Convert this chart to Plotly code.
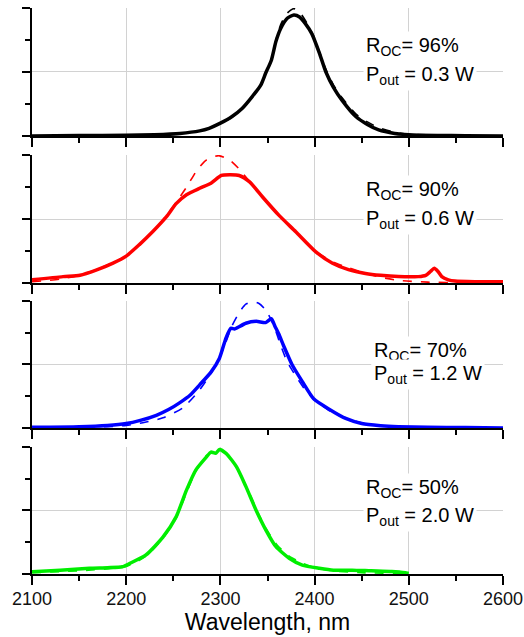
import plotly.graph_objects as go

# ---------------- data ----------------
# Panel 1: R_OC = 96 %, black
wl_96 = [2100, 2150, 2200, 2230, 2257, 2278, 2288, 2300, 2312, 2323, 2334, 2343, 2348, 2354, 2359, 2364,
         2371, 2378, 2384, 2390, 2397, 2405, 2412, 2420, 2429, 2444, 2456, 2468, 2485, 2500, 2530, 2560, 2600]
sp_96 = [0.0, 0.003, 0.005, 0.01, 0.02, 0.04, 0.06, 0.10, 0.15, 0.215, 0.31, 0.40, 0.49, 0.59, 0.74, 0.84,
         0.92, 0.945, 0.93, 0.88, 0.80, 0.65, 0.50, 0.38, 0.28, 0.15, 0.09, 0.047, 0.02, 0.01, 0.004, 0.002, 0.0]
wl_96_fit = [2100, 2200, 2257, 2278, 2300, 2312, 2323, 2334, 2343, 2348, 2354, 2359, 2364, 2371, 2378,
             2385, 2392, 2399, 2405, 2412, 2420, 2429, 2444, 2456, 2468, 2485, 2500, 2550, 2600]
fit_96 = [0.0, 0.004, 0.02, 0.04, 0.095, 0.145, 0.21, 0.31, 0.40, 0.49, 0.60, 0.75, 0.87, 0.96, 0.995,
          0.96, 0.88, 0.78, 0.66, 0.52, 0.40, 0.30, 0.17, 0.11, 0.065, 0.03, 0.015, 0.003, 0.0]

# Panel 2: R_OC = 90 %, red
wl_90 = [2100, 2133, 2151, 2168, 2186, 2200, 2214, 2228, 2243, 2253, 2264, 2278, 2290, 2301, 2310,
         2320, 2331, 2345, 2362, 2380, 2401, 2419, 2436, 2454, 2470, 2489, 2510, 2518, 2523, 2527,
         2531, 2535, 2542, 2549, 2570, 2600]
sp_90 = [0.025, 0.05, 0.06, 0.10, 0.155, 0.21, 0.30, 0.40, 0.52, 0.62, 0.69, 0.74, 0.78, 0.84, 0.845,
         0.84, 0.79, 0.67, 0.53, 0.40, 0.245, 0.155, 0.105, 0.075, 0.06, 0.05, 0.05, 0.06, 0.09, 0.115,
         0.09, 0.05, 0.025, 0.015, 0.01, 0.01]
wl_90_fit = [2100, 2130, 2150, 2170, 2186, 2200, 2214, 2228, 2243, 2255, 2265, 2275, 2285, 2298,
             2310, 2320, 2330, 2345, 2362, 2380, 2401, 2419, 2436, 2454, 2470, 2490, 2520, 2560, 2600]
fit_90 = [0.01, 0.03, 0.06, 0.11, 0.16, 0.21, 0.30, 0.40, 0.53, 0.65, 0.76, 0.88, 0.96, 0.995,
          0.96, 0.89, 0.80, 0.67, 0.53, 0.40, 0.25, 0.165, 0.12, 0.075, 0.045, 0.02, 0.007, 0.002, 0.0]

# Panel 3: R_OC = 70 %, blue
wl_70 = [2100, 2150, 2180, 2200, 2215, 2232, 2245, 2257, 2268, 2278, 2290, 2299, 2306, 2311, 2315,
         2318, 2327, 2338, 2348, 2354, 2358, 2362, 2367, 2376, 2387, 2399, 2415, 2433, 2450, 2470,
         2489, 2520, 2560, 2600]
sp_70 = [0.005, 0.01, 0.02, 0.035, 0.06, 0.10, 0.145, 0.20, 0.26, 0.34, 0.44, 0.55, 0.71, 0.785, 0.78,
         0.79, 0.825, 0.84, 0.83, 0.86, 0.80, 0.74, 0.65, 0.50, 0.365, 0.23, 0.15, 0.075, 0.035, 0.018,
         0.01, 0.005, 0.003, 0.0]
wl_70_fit = [2100, 2180, 2200, 2220, 2239, 2260, 2278, 2290, 2299, 2306, 2312, 2320, 2327, 2334,
             2341, 2348, 2354, 2358, 2364, 2371, 2380, 2390, 2400, 2415, 2433, 2450, 2475, 2520, 2600]
fit_70 = [0.0, 0.01, 0.02, 0.045, 0.08, 0.157, 0.30, 0.43, 0.55, 0.68, 0.80, 0.91, 0.975, 0.995,
          0.98, 0.93, 0.85, 0.78, 0.65, 0.52, 0.41, 0.30, 0.22, 0.14, 0.08, 0.04, 0.015, 0.003, 0.0]

# Panel 4: R_OC = 50 %, green
wl_50 = [2100, 2130, 2161, 2180, 2196, 2204, 2221, 2239, 2253, 2264, 2274, 2285, 2290, 2295, 2299,
         2306, 2317, 2327, 2338, 2348, 2359, 2373, 2387, 2405, 2420, 2440, 2460, 2482, 2490, 2500]
sp_50 = [0.018, 0.03, 0.045, 0.05, 0.057, 0.084, 0.15, 0.29, 0.45, 0.66, 0.82, 0.92, 0.96, 0.95, 0.98,
         0.95, 0.845, 0.69, 0.50, 0.35, 0.215, 0.124, 0.07, 0.045, 0.03, 0.03, 0.025, 0.02, 0.015, 0.005]
wl_50_fit = [2100, 2160, 2200, 2221, 2239, 2253, 2264, 2274, 2285, 2298, 2310, 2320, 2330, 2340,
             2350, 2360, 2373, 2387, 2400, 2420, 2450, 2500]
fit_50 = [0.01, 0.03, 0.06, 0.14, 0.28, 0.44, 0.64, 0.81, 0.93, 0.98, 0.92, 0.80, 0.65, 0.48,
          0.34, 0.23, 0.14, 0.085, 0.05, 0.025, 0.01, 0.005]

roc_labels = ["96%", "90%", "70%", "50%"]
pout_labels = ["0.3 W", "0.6 W", "1.2 W", "2.0 W"]
x_ticks = [2100, 2200, 2300, 2400, 2500, 2600]

# ---------------- figure ----------------
panels = [
    (wl_96, sp_96, wl_96_fit, fit_96, "#000000"),
    (wl_90, sp_90, wl_90_fit, fit_90, "#ff0000"),
    (wl_70, sp_70, wl_70_fit, fit_70, "#0000ff"),
    (wl_50, sp_50, wl_50_fit, fit_50, "#00ee00"),
]
domains = [[0.7739, 1.0], [0.5141, 0.7403], [0.2580, 0.4823], [0.0, 0.2244]]
text_pos = [  # (x, y line1, y line2)
    (2451, 0.70, 0.47),
    (2451, 0.72, 0.50),
    (2460, 0.60, 0.42),
    (2451, 0.675, 0.455),
]

FONT = "Liberation Sans, Arial, sans-serif"
fig = go.Figure()
layout = dict(
    width=524, height=637, autosize=False,
    margin=dict(l=32, r=21, t=8, b=63),
    paper_bgcolor="white", plot_bgcolor="white",
    showlegend=False,
    font=dict(family=FONT, color="black"),
)
annotations = []
for i, (wl, sp, wlf, fit, col) in enumerate(panels):
    n = i + 1
    xa = "x" if n == 1 else f"x{n}"
    ya = "y" if n == 1 else f"y{n}"
    fig.add_trace(go.Scatter(x=wlf, y=fit, mode="lines", xaxis=xa, yaxis=ya, hoverinfo="skip",
                             line=dict(color=col, width=1.6, dash="dash", shape="spline", smoothing=0.6)))
    fig.add_trace(go.Scatter(x=wl, y=sp, mode="lines", xaxis=xa, yaxis=ya, hoverinfo="skip",
                             line=dict(color=col, width=3.5, shape="spline", smoothing=0.6)))
    xkey = "xaxis" if n == 1 else f"xaxis{n}"
    ykey = "yaxis" if n == 1 else f"yaxis{n}"
    layout[xkey] = dict(
        domain=[0, 1], anchor=ya, range=[2100, 2600], automargin=False,
        tickvals=x_ticks, ticks="outside", ticklen=9, tickwidth=1.5, tickcolor="black",
        showticklabels=(n == 4), tickfont=dict(size=18, color="#111111", family=FONT),
        ticklabelstandoff=-2,
        showline=True, linecolor="black", linewidth=2,
        showgrid=True, gridcolor="#d2d2d2", gridwidth=1, zeroline=False,
        minor=dict(dtick=50, tick0=2100, ticks="outside", ticklen=5, tickwidth=1.5,
                   tickcolor="black", showgrid=False),
    )
    if n == 4:
        layout[xkey]["title"] = dict(text="Wavelength, nm", font=dict(size=23, family=FONT, color="black"),
                                     standoff=3)
    layout[ykey] = dict(
        domain=domains[i], anchor=xa, range=[0, 1], automargin=False,
        tickvals=[0, 0.5, 1], ticks="outside", ticklen=8, tickwidth=1.5, tickcolor="black",
        showticklabels=False,
        showline=True, linecolor="black", linewidth=2,
        showgrid=True, gridcolor="#d2d2d2", gridwidth=1, zeroline=False,
        minor=dict(tickvals=[0.25, 0.75], ticks="outside", ticklen=5, tickwidth=1.5,
                   tickcolor="black", showgrid=False),
    )
    tx, ty1, ty2 = text_pos[i]
    annotations.append(dict(
        x=tx, y=ty1, xref=xa, yref=ya, xanchor="left", yanchor="middle", showarrow=False,
        text=f"R<sub>OC</sub>= {roc_labels[i]}", font=dict(size=20, family=FONT, color="black"),
        bgcolor="white", borderpad=2,
    ))
    annotations.append(dict(
        x=tx, y=ty2, xref=xa, yref=ya, xanchor="left", yanchor="middle", showarrow=False,
        text=f"P<sub>out</sub> = {pout_labels[i]}", font=dict(size=20, family=FONT, color="black"),
        bgcolor="white", borderpad=2,
    ))
layout["annotations"] = annotations
fig.update_layout(**layout)
fig.write_html("out.html", config={"displayModeBar": False},
               post_script="document.body.style.margin='0';document.body.style.overflow='hidden';")
